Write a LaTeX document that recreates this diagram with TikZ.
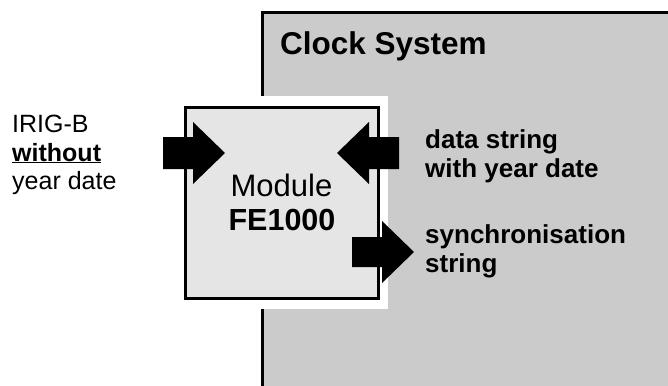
\documentclass[tikz,border=0pt]{standalone}
\usepackage{fontspec}
\setmainfont{Liberation Sans}
\definecolor{sysgray}{HTML}{CBCBCB}
\definecolor{modgray}{HTML}{E5E5E5}
\begin{document}
\begin{tikzpicture}[x=1pt,y=-1pt,
  lbl/.style={anchor=base west,inner sep=0pt},
  lblc/.style={anchor=base,inner sep=0pt},
  bigarrow/.style={fill=black}]
\useasboundingbox (0,0) rectangle (668,385);
% clock system
\fill[sysgray] (262,13) rectangle (672,390);
\draw[line width=3pt] (262,390) -- (262,13) -- (672,13);
\node[lbl,font=\fontsize{31.5}{36}\bfseries\selectfont] (cs) at (280,55) {Clock System};
% white margin
\fill[white] (178,96) rectangle (388,309);
% module
\node[draw,line width=3pt,fill=modgray,minimum width=193pt,minimum height=191pt,inner sep=0pt] (module) at (281.5,202.5) {};
\node[lblc,font=\fontsize{31}{34}\selectfont] (m1) at (281.5,196) {Module};
\node[lblc,font=\fontsize{30.5}{34}\bfseries\selectfont] (m2) at (282,230) {FE1000};
% arrows
\fill[bigarrow] (163,137) -- (193,137) -- (193,122) -- (225,153) -- (193,184) -- (193,169) -- (163,169) -- cycle;
\fill[bigarrow] (399,137) -- (369,137) -- (369,122) -- (337,153) -- (369,184) -- (369,169) -- (399,169) -- cycle;
\fill[bigarrow] (352,237) -- (382,237) -- (382,221) -- (414,252) -- (382,283) -- (382,267) -- (352,267) -- cycle;
% left text
\node[lbl,font=\fontsize{25}{29}\selectfont] (l1) at (12,132) {IRIG-B};
\node[lbl,font=\fontsize{25}{29}\bfseries\selectfont] (l2) at (12,161) {\underline{without}};
\node[lbl,font=\fontsize{25}{29}\selectfont] (l3) at (12,189) {year date};
% right text
\node[lbl,font=\fontsize{26}{29}\bfseries\selectfont] (r1) at (425,148) {data string};
\node[lbl,font=\fontsize{26}{29}\bfseries\selectfont] (r2) at (425,177) {with year date};
\node[lbl,font=\fontsize{26}{29}\bfseries\selectfont] (r3) at (425,243) {synchronisation};
\node[lbl,font=\fontsize{26}{29}\bfseries\selectfont] (r4) at (425,272) {string};
\end{tikzpicture}
\end{document}
